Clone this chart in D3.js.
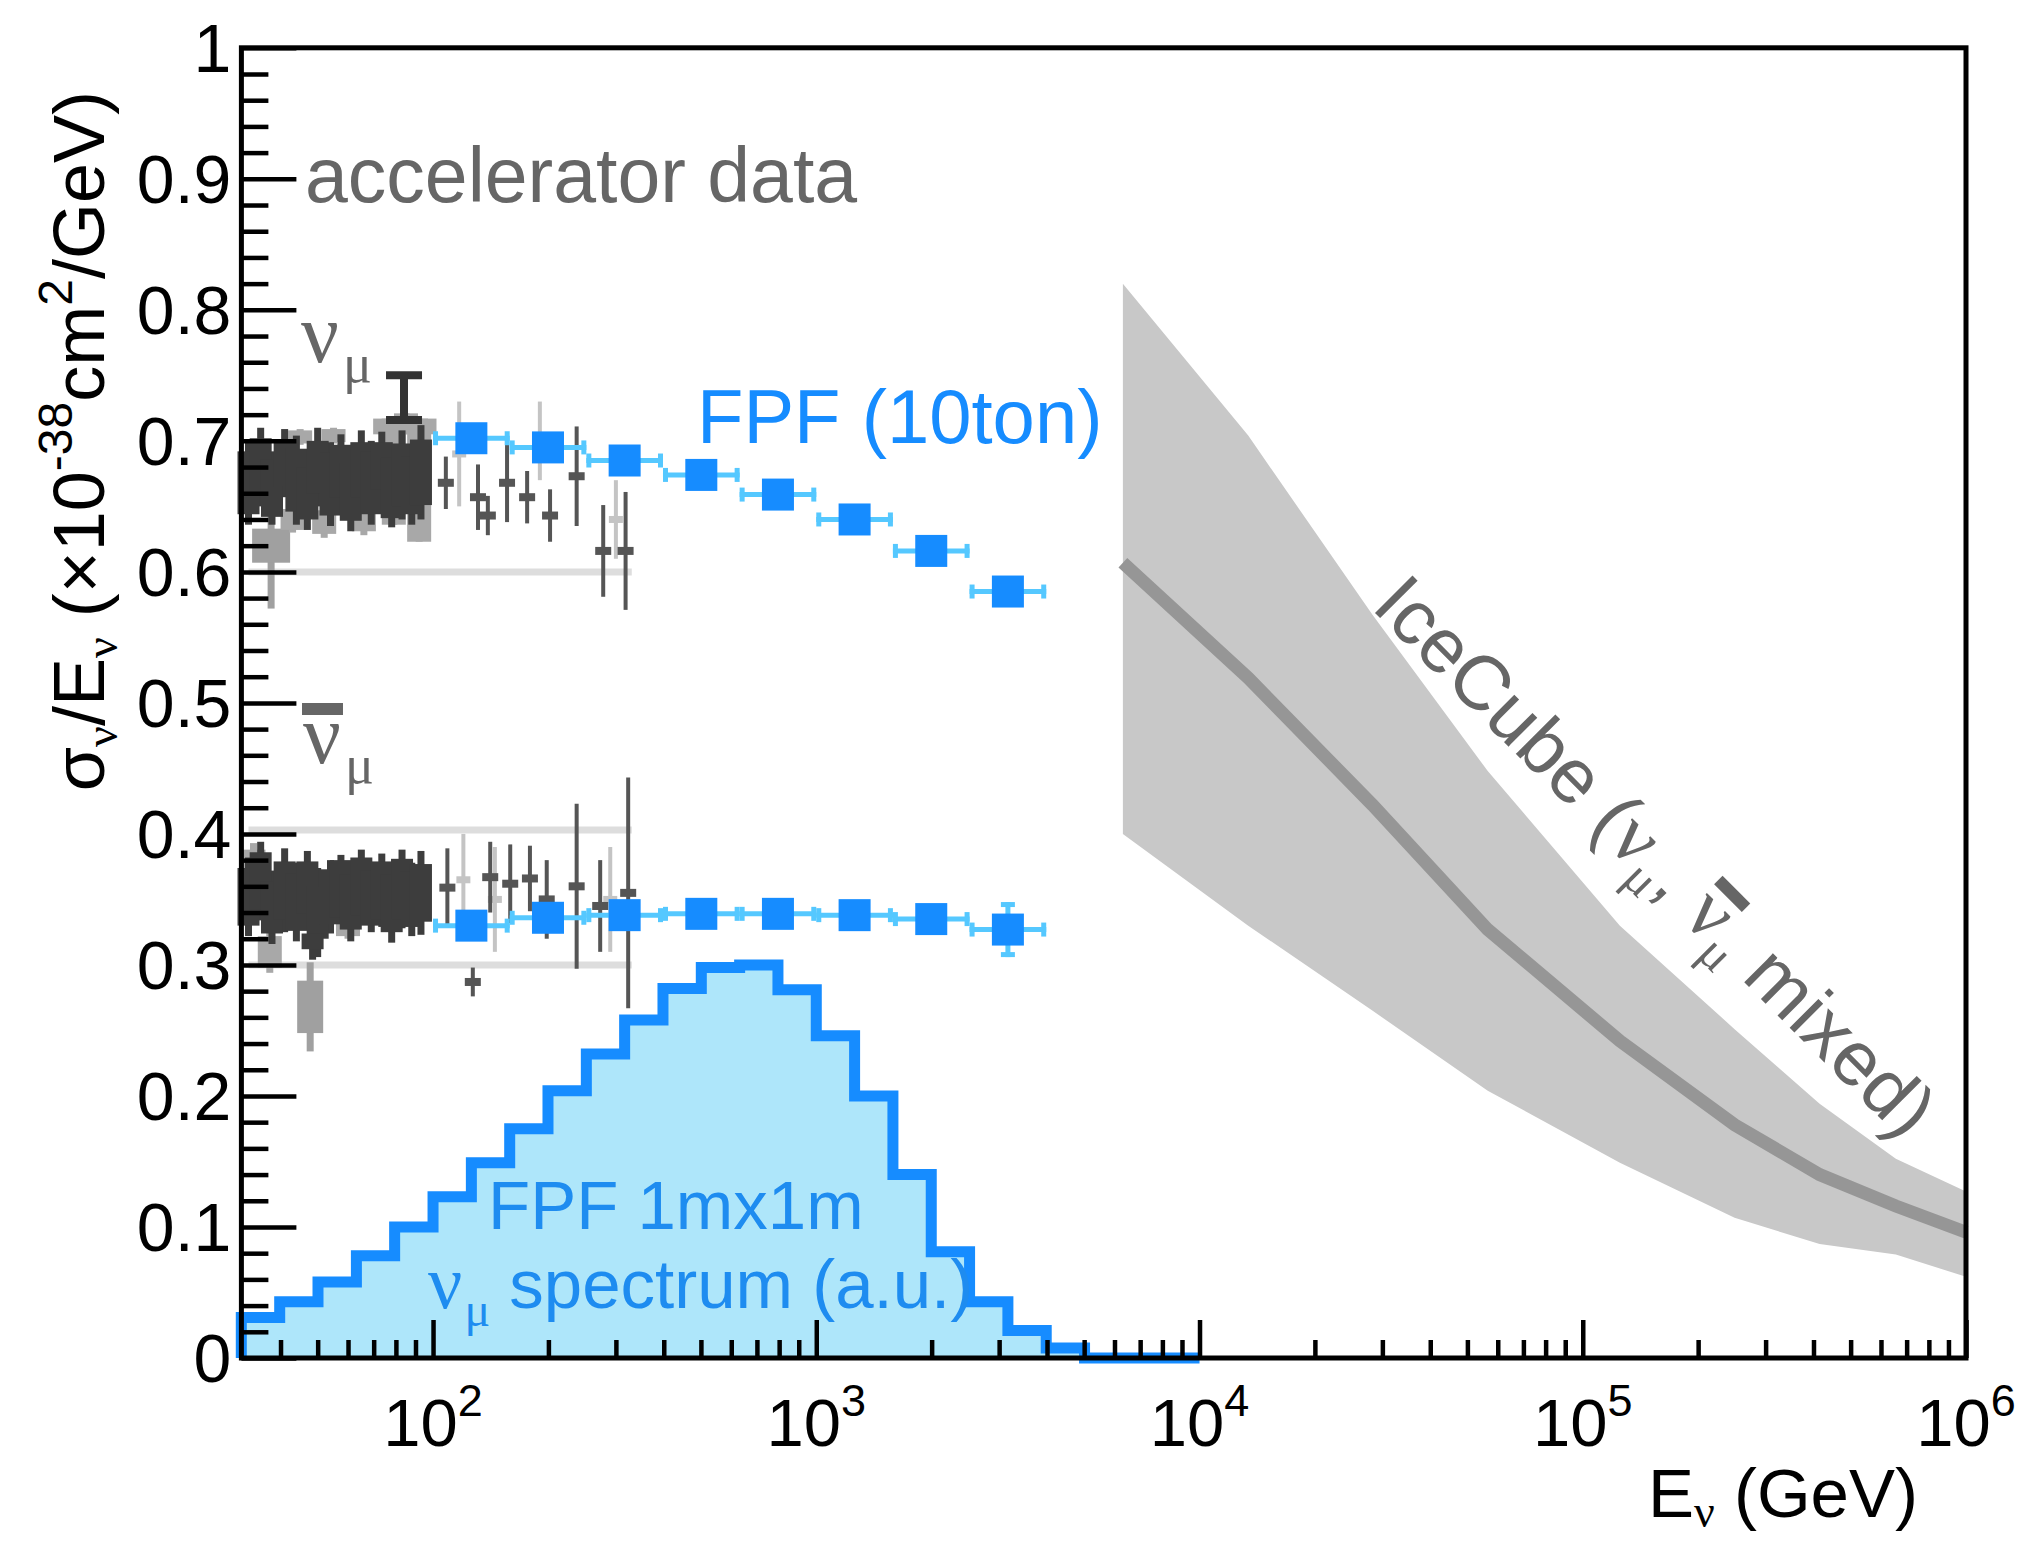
<!DOCTYPE html>
<html>
<head>
<meta charset="utf-8">
<script src="https://cdnjs.cloudflare.com/ajax/libs/d3/7.8.5/d3.min.js"></script>
<style>
body { margin: 0; background: #fff; }
svg { display: block; font-family: "Liberation Sans", Arial, Helvetica, sans-serif; }
</style>
</head>
<body>
<div id="chart"></div>
<script>
// ---- data ----

// FPF 1mx1m numu spectrum (a.u.), bins of 0.1 in log10(E)
var specEdges = [31.6, 39.8, 50.1, 63.1, 79.4, 100, 125.9, 158.5, 199.5, 251.2, 316.2, 398.1, 501.2,
                 631, 794.3, 1000, 1258.9, 1584.9, 1995.3, 2511.9, 3162.3, 3981.1, 5011.9, 6309.6, 7943.3, 10000];
var specVals = [0.031, 0.043, 0.058, 0.078, 0.100, 0.123, 0.149, 0.175, 0.204, 0.232, 0.258, 0.282, 0.298,
                0.300, 0.281, 0.246, 0.200, 0.140, 0.081, 0.043, 0.021, 0.0076, 0, 0, 0];

// FPF (10ton) projected measurements
var fpfEdges = [100, 158.5, 251.2, 398.1, 631, 1000, 1584.9, 2511.9, 3981.1];
var fpfE = [125.9, 199.5, 316.2, 501.2, 794.3, 1258.9, 1995.3, 3162.3];
var fpfNu = [0.702, 0.695, 0.685, 0.674, 0.659, 0.640, 0.616, 0.585];
var fpfNuErr = [0.003, 0.003, 0.004, 0.004, 0.005, 0.006, 0.008, 0.010];
var fpfNubar = [0.330, 0.336, 0.338, 0.339, 0.339, 0.338, 0.335, 0.327];
var fpfNubarErr = [0.003, 0.003, 0.004, 0.005, 0.006, 0.008, 0.011, 0.021];

// IceCube band (numu, numubar mixed)
var icE = [6310, 13400, 28300, 56500, 125000, 249000, 415000, 656000, 1000000];
var icMid = [0.607, 0.519, 0.422, 0.327, 0.242, 0.178, 0.140, 0.116, 0.096];
var icLo = [0.400, 0.330, 0.265, 0.204, 0.149, 0.107, 0.087, 0.079, 0.062];
var icHi = [0.820, 0.704, 0.567, 0.448, 0.330, 0.251, 0.194, 0.152, 0.127];

// accelerator data: [E, value, stat err, syst err]
var accNuDark = [[33, 0.668, 0.032, 0.024], [35.5, 0.680, 0.030, 0.022], [38, 0.664, 0.028, 0.022],
  [41, 0.683, 0.026, 0.018], [44, 0.670, 0.034, 0.024], [47, 0.660, 0.028, 0.020], [50, 0.680, 0.030, 0.020],
  [54, 0.667, 0.032, 0.024], [57.5, 0.677, 0.028, 0.020], [61, 0.661, 0.030, 0.022], [65, 0.678, 0.030, 0.021],
  [69, 0.668, 0.032, 0.024], [73.5, 0.681, 0.026, 0.018], [78, 0.664, 0.030, 0.023], [83, 0.674, 0.034, 0.024],
  [88, 0.666, 0.030, 0.022], [93, 0.676, 0.036, 0.025]];
var accNuLight = [[45, 0.703, 0.006, 0.005], [55, 0.704, 0.006, 0.005],
  [52, 0.638, 0.012, 0.009], [66, 0.640, 0.012, 0.009], [79, 0.676, 0.040, 0.040], [92, 0.669, 0.046, 0.046],
  [75, 0.711, 0.006, 0.006], [85, 0.713, 0.008, 0.008], [95, 0.711, 0.006, 0.006], [43, 0.640, 0.010, 0.008]];
var accNuWide = [[37.8, 0.620, 0.048, 0.013]];
var accNuCapped = [[84, 0.733, 0.017]];
var accNuSparse = [[108, 0.668, 0.020], [131, 0.657, 0.025], [139, 0.643, 0.015], [156, 0.668, 0.030],
  [176, 0.657, 0.020], [202, 0.643, 0.020], [237, 0.673, 0.038], [278, 0.616, 0.035], [318, 0.616, 0.045]];
var accNuFaint = [[117, 0.690, 0.040], [190, 0.700, 0.030], [300, 0.640, 0.030]];

var accNubarDark = [[33, 0.352, 0.030, 0.022], [35.5, 0.364, 0.030, 0.022], [38, 0.344, 0.028, 0.020],
  [41, 0.357, 0.032, 0.022], [44, 0.348, 0.030, 0.022], [47, 0.359, 0.028, 0.020], [50, 0.340, 0.034, 0.020],
  [54, 0.352, 0.028, 0.021], [57.5, 0.358, 0.026, 0.022], [61, 0.348, 0.030, 0.021], [65, 0.360, 0.028, 0.022],
  [69, 0.351, 0.026, 0.021], [73.5, 0.357, 0.028, 0.022], [78, 0.347, 0.030, 0.022], [83, 0.358, 0.030, 0.023],
  [88, 0.350, 0.028, 0.021], [93, 0.355, 0.032, 0.022], [48.5, 0.318, 0.014, 0.006]];
var accNubarLight = [[37.5, 0.310, 0.016, 0.012], [34, 0.378, 0.015, 0.010], [60, 0.330, 0.010, 0.008]];
var accNubarWide = [[47.8, 0.268, 0.034, 0.020]];
var accNubarSparse = [[109, 0.359, 0.030], [127, 0.287, 0.011], [141, 0.367, 0.027], [159, 0.362, 0.030],
  [179, 0.366, 0.025], [198, 0.350, 0.030], [237, 0.360, 0.063], [273, 0.345, 0.035], [323, 0.355, 0.088]];
var accNubarFaint = [[120, 0.365, 0.035], [145, 0.350, 0.040], [290, 0.350, 0.040]];

var accRefLevels = [0.600, 0.403, 0.300];
var accRefRange = [33, 330];

// axis ticks
var xTickVals = [1e2, 1e3, 1e4, 1e5, 1e6];
var xTickExp = ['2', '3', '4', '5', '6'];
var yTickVals = [0, 0.1, 0.2, 0.3, 0.4, 0.5, 0.6, 0.7, 0.8, 0.9, 1];
var yTickLabels = ['0', '0.1', '0.2', '0.3', '0.4', '0.5', '0.6', '0.7', '0.8', '0.9', '1'];

// ---- drawing ----
var W = 2024, H = 1544;
var M = {left: 241.4, right: 1966, top: 47.8, bottom: 1358};
var serif = '"Liberation Serif", "DejaVu Serif", serif';
var blue = '#168cff', lightBlue = '#55c8ff', gray = '#666666';

var svg = d3.select('#chart').append('svg').attr('width', W).attr('height', H);
svg.append('rect').attr('width', W).attr('height', H).attr('fill', '#fff');

var x = d3.scaleLog().domain([31.62, 1e6]).range([M.left, M.right]);
var y = d3.scaleLinear().domain([0, 1]).range([M.bottom, M.top]);

// IceCube
var ic = icE.map(function (e, i) { return {e: e, m: icMid[i], lo: icLo[i], hi: icHi[i]}; });
svg.append('path').datum(ic)
    .attr('fill', '#c8c8c8')
    .attr('d', d3.area().x(function (d) { return x(d.e); }).y0(function (d) { return y(d.lo); }).y1(function (d) { return y(d.hi); }));
svg.append('path').datum(ic)
    .attr('fill', 'none').attr('stroke', '#969696').attr('stroke-width', 13)
    .attr('d', d3.line().x(function (d) { return x(d.e); }).y(function (d) { return y(d.m); }));

// spectrum histogram
var steps = [[specEdges[0], 0]];
specVals.forEach(function (v, i) { steps.push([specEdges[i], v]); steps.push([specEdges[i + 1], v]); });
steps.push([specEdges[specEdges.length - 1], 0]);
var stepLine = d3.line().x(function (d) { return x(d[0]); }).y(function (d) { return y(d[1]); });
svg.append('path').datum(steps).attr('fill', '#aee6fa').attr('d', stepLine);
svg.append('path').datum(steps).attr('fill', 'none').attr('stroke', blue).attr('stroke-width', 11)
    .attr('stroke-linejoin', 'miter').attr('d', stepLine);

// accelerator data
var acc = svg.append('g');
acc.selectAll('line.ref').data(accRefLevels).enter().append('line')
    .attr('x1', x(accRefRange[0])).attr('x2', x(accRefRange[1]))
    .attr('y1', function (d) { return y(d); }).attr('y2', function (d) { return y(d); })
    .attr('stroke', '#dddddd').attr('stroke-width', 7);

function boxes(data, color, bw) {
    var g = acc.append('g');
    g.selectAll('line').data(data).enter().append('line')
        .attr('x1', function (d) { return x(d[0]); }).attr('x2', function (d) { return x(d[0]); })
        .attr('y1', function (d) { return y(d[1] - d[2]); }).attr('y2', function (d) { return y(d[1] + d[2]); })
        .attr('stroke', color).attr('stroke-width', 7);
    g.selectAll('rect').data(data).enter().append('rect')
        .attr('x', function (d) { return x(d[0]) - bw / 2; }).attr('width', bw)
        .attr('y', function (d) { return y(d[1] + d[3]); })
        .attr('height', function (d) { return y(d[1] - d[3]) - y(d[1] + d[3]); })
        .attr('fill', color);
}
function marks(data, color, ms, lw) {
    var g = acc.append('g');
    g.selectAll('line').data(data).enter().append('line')
        .attr('x1', function (d) { return x(d[0]); }).attr('x2', function (d) { return x(d[0]); })
        .attr('y1', function (d) { return y(d[1] - d[2]); }).attr('y2', function (d) { return y(d[1] + d[2]); })
        .attr('stroke', color).attr('stroke-width', lw);
    g.selectAll('rect').data(data).enter().append('rect')
        .attr('x', function (d) { return x(d[0]) - ms; }).attr('width', 2 * ms)
        .attr('y', function (d) { return y(d[1]) - ms / 2; }).attr('height', ms)
        .attr('fill', color);
}
boxes(accNuWide, '#a0a0a0', 38);
boxes(accNubarWide, '#a0a0a0', 26);
boxes(accNuLight, '#a8a8a8', 24);
boxes(accNubarLight, '#a8a8a8', 24);
marks(accNuFaint, '#c4c4c4', 7, 4);
marks(accNubarFaint, '#c4c4c4', 7, 4);
boxes(accNuDark, '#3d3d3d', 22);
boxes(accNubarDark, '#3d3d3d', 22);
marks(accNuSparse, '#555555', 8, 4);
marks(accNubarSparse, '#555555', 8, 4);
accNuCapped.forEach(function (d) {
    var cx = x(d[0]);
    acc.append('line').attr('x1', cx).attr('x2', cx).attr('y1', y(d[1] - d[2])).attr('y2', y(d[1] + d[2]))
        .attr('stroke', '#333').attr('stroke-width', 8);
    [d[1] - d[2], d[1] + d[2]].forEach(function (v) {
        acc.append('line').attr('x1', cx - 18).attr('x2', cx + 18).attr('y1', y(v)).attr('y2', y(v))
            .attr('stroke', '#333').attr('stroke-width', 8);
    });
});

// FPF (10ton) points
function fpfSeries(vals, errs) {
    var g = svg.append('g');
    var pts = fpfE.map(function (e, i) { return {e: e, lo: fpfEdges[i], hi: fpfEdges[i + 1], v: vals[i], err: errs[i]}; });
    var bars = g.selectAll('g').data(pts).enter().append('g');
    bars.append('line')
        .attr('x1', function (d) { return x(d.lo); }).attr('x2', function (d) { return x(d.hi); })
        .attr('y1', function (d) { return y(d.v); }).attr('y2', function (d) { return y(d.v); })
        .attr('stroke', lightBlue).attr('stroke-width', 5);
    bars.append('line')
        .attr('x1', function (d) { return x(d.e); }).attr('x2', function (d) { return x(d.e); })
        .attr('y1', function (d) { return y(d.v - d.err); }).attr('y2', function (d) { return y(d.v + d.err); })
        .attr('stroke', lightBlue).attr('stroke-width', 5);
    ['lo', 'hi'].forEach(function (k) {
        bars.append('line')
            .attr('x1', function (d) { return x(d[k]) + (k === 'lo' ? 2.5 : -2.5); })
            .attr('x2', function (d) { return x(d[k]) + (k === 'lo' ? 2.5 : -2.5); })
            .attr('y1', function (d) { return y(d.v) - 7; }).attr('y2', function (d) { return y(d.v) + 7; })
            .attr('stroke', lightBlue).attr('stroke-width', 5);
    });
    bars.append('line')
        .attr('x1', function (d) { return x(d.e) - 7; }).attr('x2', function (d) { return x(d.e) + 7; })
        .attr('y1', function (d) { return y(d.v + d.err) + 2.5; }).attr('y2', function (d) { return y(d.v + d.err) + 2.5; })
        .attr('stroke', lightBlue).attr('stroke-width', 5);
    bars.append('line')
        .attr('x1', function (d) { return x(d.e) - 7; }).attr('x2', function (d) { return x(d.e) + 7; })
        .attr('y1', function (d) { return y(d.v - d.err) - 2.5; }).attr('y2', function (d) { return y(d.v - d.err) - 2.5; })
        .attr('stroke', lightBlue).attr('stroke-width', 5);
    bars.append('rect')
        .attr('x', function (d) { return x(d.e) - 16; }).attr('y', function (d) { return y(d.v) - 16; })
        .attr('width', 32).attr('height', 32).attr('fill', blue);
}
fpfSeries(fpfNu, fpfNuErr);
fpfSeries(fpfNubar, fpfNubarErr);

// axes
var xMinor = [];
for (var dec = 1; dec <= 5; dec++) {
    for (var k = 2; k <= 9; k++) {
        var t = k * Math.pow(10, dec);
        if (t > 31.62 && t < 1e6) xMinor.push(t);
    }
}
var yMinor = d3.range(0.02, 1, 0.02).filter(function (v) { return Math.abs(v * 10 - Math.round(v * 10)) > 1e-6; });

function styleAxis(g) {
    g.select('.domain').remove();
    g.selectAll('line').attr('stroke', '#000').attr('stroke-width', 4.5);
}
svg.append('g').attr('transform', 'translate(0,' + M.bottom + ')')
    .call(d3.axisBottom(x).tickValues(xMinor).tickSize(-18).tickFormat('')).call(styleAxis);
svg.append('g').attr('transform', 'translate(0,' + M.bottom + ')')
    .call(d3.axisBottom(x).tickValues(xTickVals).tickSize(-38).tickFormat('')).call(styleAxis);
svg.append('g').attr('transform', 'translate(' + M.left + ',0)')
    .call(d3.axisLeft(y).tickValues(yMinor).tickSize(-27).tickFormat('')).call(styleAxis);
svg.append('g').attr('transform', 'translate(' + M.left + ',0)')
    .call(d3.axisLeft(y).tickValues(yTickVals).tickSize(-55).tickFormat('')).call(styleAxis);

svg.append('rect').attr('x', M.left).attr('y', M.top)
    .attr('width', M.right - M.left).attr('height', M.bottom - M.top)
    .attr('fill', 'none').attr('stroke', '#000').attr('stroke-width', 5);

// tick labels
svg.selectAll('text.ylab').data(yTickVals).enter().append('text')
    .attr('x', M.left - 10).attr('y', function (d) { return y(d); }).attr('dy', '0.36em')
    .attr('text-anchor', 'end').attr('font-size', 68)
    .text(function (d, i) { return yTickLabels[i]; });

xTickVals.forEach(function (v, i) {
    var t = svg.append('text').attr('x', x(v)).attr('y', 1446).attr('text-anchor', 'middle').attr('font-size', 67);
    t.append('tspan').text('10');
    t.append('tspan').attr('font-size', 45).attr('dy', -30).text(xTickExp[i]);
});

// axis titles
var xt = svg.append('text').attr('x', 1918).attr('y', 1517).attr('text-anchor', 'end').attr('font-size', 69);
xt.append('tspan').text('E');
xt.append('tspan').attr('font-family', serif).attr('font-size', 46).attr('dy', 10).text('ν');
xt.append('tspan').attr('dy', -10).text(' (GeV)');

var yt = svg.append('text').attr('transform', 'translate(104,91) rotate(-90)')
    .attr('text-anchor', 'end').attr('font-size', 72);
yt.append('tspan').text('σ');
yt.append('tspan').attr('font-family', serif).attr('font-size', 46).attr('dy', 13).text('ν');
yt.append('tspan').attr('dy', -13).text('/E');
yt.append('tspan').attr('font-family', serif).attr('font-size', 46).attr('dy', 13).text('ν');
yt.append('tspan').attr('dy', -13).text(' (×10');
yt.append('tspan').attr('font-size', 48).attr('dy', -32).text('-38');
yt.append('tspan').attr('dy', 32).text('cm');
yt.append('tspan').attr('font-size', 48).attr('dy', -32).text('2');
yt.append('tspan').attr('dy', 32).text('/GeV)');

// in-plot labels
svg.append('text').attr('x', 305).attr('y', 202).attr('font-size', 77).attr('fill', gray).text('accelerator data');
svg.append('text').attr('x', 697).attr('y', 443).attr('font-size', 76).attr('fill', blue).text('FPF (10ton)');

function nuLabel(px, py, bar) {
    var g = svg.append('g').attr('transform', 'translate(' + px + ',' + py + ')');
    var t = g.append('text').attr('font-family', serif).attr('fill', gray).attr('font-size', 84);
    t.append('tspan').text('ν');
    t.append('tspan').attr('font-size', 54).attr('dy', 20).attr('dx', 4).text('μ');
    if (bar) {
        var n = t.node(), a = n.getStartPositionOfChar(0), b = n.getEndPositionOfChar(0);
        g.append('rect').attr('x', a.x - 1).attr('y', -60).attr('width', b.x - a.x + 3).attr('height', 12).attr('fill', gray);
    }
}
nuLabel(301, 362, false);
nuLabel(303, 763, true);

var sl = svg.append('g').attr('fill', '#1e8cf0');
sl.append('text').attr('x', 488).attr('y', 1229).attr('font-size', 69).text('FPF 1mx1m');
var sl2 = sl.append('text').attr('x', 428).attr('y', 1308).attr('font-size', 69);
sl2.append('tspan').attr('font-family', serif).attr('font-size', 76).text('ν');
sl2.append('tspan').attr('font-family', serif).attr('font-size', 48).attr('dy', 18).attr('dx', 2).text('μ');
sl2.append('tspan').attr('dy', -18).text(' spectrum (a.u.)');

// IceCube label, rotated along the band
var ig = svg.append('g').attr('transform', 'translate(1370,608) rotate(45)');
var it = ig.append('text').attr('font-size', 77).attr('fill', gray);
it.append('tspan').text('IceCube (');
it.append('tspan').attr('font-family', serif).attr('font-size', 80).text('ν');
it.append('tspan').attr('font-family', serif).attr('font-size', 50).attr('dy', 16).text('μ');
it.append('tspan').attr('dy', -16).text(', ');
it.append('tspan').attr('font-family', serif).attr('font-size', 80).text('ν');
it.append('tspan').attr('font-family', serif).attr('font-size', 50).attr('dy', 16).text('μ');
it.append('tspan').attr('dy', -16).text(' mixed)');
(function () {
    var n = it.node();
    var idx = 'IceCube (νμ, '.length;
    var a = n.getStartPositionOfChar(idx), b = n.getEndPositionOfChar(idx);
    ig.append('rect').attr('x', a.x - 1).attr('y', -60).attr('width', b.x - a.x + 3).attr('height', 12).attr('fill', gray);
})();
</script>
</body>
</html>
